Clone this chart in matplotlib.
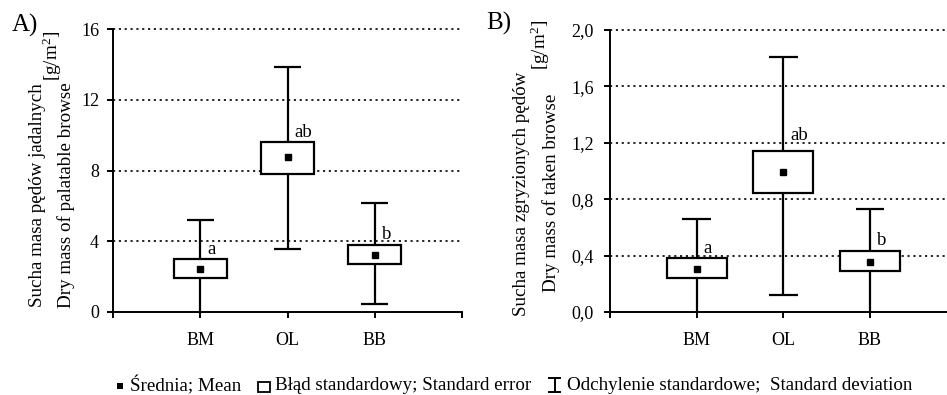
import matplotlib
matplotlib.use("Agg")
import matplotlib.pyplot as plt
from matplotlib.patches import Rectangle
from matplotlib.lines import Line2D

plt.rcParams['font.family'] = ['Liberation Serif', 'DejaVu Serif']
plt.rcParams['mathtext.fontset'] = 'custom'
plt.rcParams['mathtext.rm'] = 'Liberation Serif'
plt.rcParams['mathtext.it'] = 'Liberation Serif:italic'

# ---------------- data ----------------
categories = ["BM", "OL", "BB"]

# Panel A: dry mass of palatable browse [g/m2]
a_mean = [2.44, 8.74, 3.23]
a_se_low = [1.95, 7.81, 2.70]
a_se_high = [2.99, 9.61, 3.78]
a_sd_low = [-0.40, 3.56, 0.44]
a_sd_high = [5.20, 13.83, 6.14]
a_letters = ["a", "ab", "b"]
a_yticks = [0, 4, 8, 12, 16]
a_yticklabels = ["0", "4", "8", "12", "16"]

# Panel B: dry mass of taken browse [g/m2]
b_mean = [0.308, 0.994, 0.355]
b_se_low = [0.244, 0.843, 0.291]
b_se_high = [0.386, 1.139, 0.433]
b_sd_low = [-0.05, 0.118, -0.02]
b_sd_high = [0.660, 1.810, 0.734]
b_letters = ["a", "ab", "b"]
b_yticks = [0.0, 0.4, 0.8, 1.2, 1.6, 2.0]
b_yticklabels = ["0,0", "0,4", "0,8", "1,2", "1,6", "2,0"]

W, H = 947, 395
fig = plt.figure(figsize=(W / 100, H / 100), dpi=100)


def fx(x):
    return x / W


def fy(y):
    return 1 - y / H


def panel(ax, mean, lo, hi, sdlo, sdhi, letters, letter_dy, yticks, yticklabels, bw, cw, ypad):
    xs = list(range(1, len(categories) + 1))
    # whiskers (standard deviation)
    ax.vlines(xs, sdlo, sdhi, color="black", lw=1.6, zorder=2)
    ax.hlines(sdhi, [x - cw / 2 for x in xs], [x + cw / 2 for x in xs], color="black", lw=1.6, zorder=2)
    ax.hlines(sdlo, [x - cw / 2 for x in xs], [x + cw / 2 for x in xs], color="black", lw=1.6, zorder=2)
    # standard error boxes
    ax.bar(xs, [h - l for h, l in zip(hi, lo)], bottom=lo, width=bw, facecolor="white",
           edgecolor="black", linewidth=1.6, zorder=3)
    # means
    ax.plot(xs, mean, "s", color="black", ms=4, zorder=4, clip_on=False)
    for x, h, t, dy in zip(xs, hi, letters, letter_dy):
        ax.annotate(t, xy=(x, h), xytext=(5, dy), textcoords="offset points",
                    ha="left", va="baseline", fontsize=13.5)
    ax.set_xlim(0, 4)
    ax.set_ylim(yticks[0], yticks[-1])
    ax.set_yticks(yticks)
    ax.set_yticklabels(yticklabels, fontsize=13)
    ax.set_xticks([0, 1, 2, 3, 4])
    ax.set_xticklabels([""] + categories + [""], fontsize=13)
    for s in ["top", "right"]:
        ax.spines[s].set_visible(False)
    for s in ["left", "bottom"]:
        ax.spines[s].set_linewidth(1.4)
        ax.spines[s].set_zorder(5)
    ax.tick_params(axis="both", direction="out", length=4.5, width=1.4, color="black")
    ax.tick_params(axis="x", pad=10)
    ax.tick_params(axis="y", pad=ypad)
    for yv in yticks[1:]:
        ax.axhline(yv, color="black", lw=1.2, ls=(0, (1.3, 2.2)), zorder=1, clip_on=False)
    ax.patch.set_visible(False)


axA = fig.add_axes([fx(113), fy(312), fx(462) - fx(113), fy(29) - fy(312)])
panel(axA, a_mean, a_se_low, a_se_high, a_sd_low, a_sd_high, a_letters, [3.5, 3.5, 4.5],
      a_yticks, a_yticklabels, 0.61, 0.31, 5.5)

axB = fig.add_axes([fx(610), fy(312), fx(956.5) - fx(610), fy(30) - fy(312)])
panel(axB, b_mean, b_se_low, b_se_high, b_sd_low, b_sd_high, b_letters, [3.5, 8.5, 4.5],
      b_yticks, b_yticklabels, 0.69, 0.33, 7)

# panel labels
fig.text(fx(12), fy(25), "A)", fontsize=18, ha="left", va="center")
fig.text(fx(486), fy(23), "B)", fontsize=18, ha="left", va="center")

# y labels
fs_lab = 13.7
fig.text(fx(37.5), fy(195), "Sucha masa pędów jadalnych", rotation=90, ha="center", va="center", fontsize=fs_lab)
fig.text(fx(66.5), fy(195), "Dry mass of palatable browse", rotation=90, ha="center", va="center", fontsize=fs_lab)
fig.text(fx(52), fy(56), "[g/m$^2$]", rotation=90, ha="center", va="center", fontsize=fs_lab)

fig.text(fx(521), fy(194), "Sucha masa zgryzionych pędów", rotation=90, ha="center", va="center", fontsize=fs_lab)
fig.text(fx(551), fy(193), "Dry mass of taken browse", rotation=90, ha="center", va="center", fontsize=fs_lab)
fig.text(fx(540), fy(45), "[g/m$^2$]", rotation=90, ha="center", va="center", fontsize=fs_lab)

# legend
ly = 386
fs_leg = 13.7
fig.add_artist(Rectangle((fx(116.5), fy(ly + 3)), fx(6), 6 / H, transform=fig.transFigure,
                         facecolor="black", edgecolor="black", lw=0))
fig.text(fx(130), fy(ly), "Średnia; Mean", ha="left", va="center", fontsize=fs_leg)
fig.add_artist(Rectangle((fx(258), fy(392)), fx(12), 10 / H, transform=fig.transFigure,
                         facecolor="white", edgecolor="black", lw=1.3))
fig.text(fx(275), fy(ly), "Błąd standardowy; Standard error", ha="left", va="center", fontsize=fs_leg)
fig.add_artist(Line2D([fx(554.5), fx(554.5)], [fy(378), fy(392)], transform=fig.transFigure, color="black", lw=1.4))
fig.add_artist(Line2D([fx(549), fx(560)], [fy(378), fy(378)], transform=fig.transFigure, color="black", lw=1.4))
fig.add_artist(Line2D([fx(549), fx(560)], [fy(392), fy(392)], transform=fig.transFigure, color="black", lw=1.4))
fig.text(fx(567), fy(ly), "Odchylenie standardowe;  Standard deviation", ha="left", va="center", fontsize=fs_leg)

fig.savefig("out.png", dpi=100)
